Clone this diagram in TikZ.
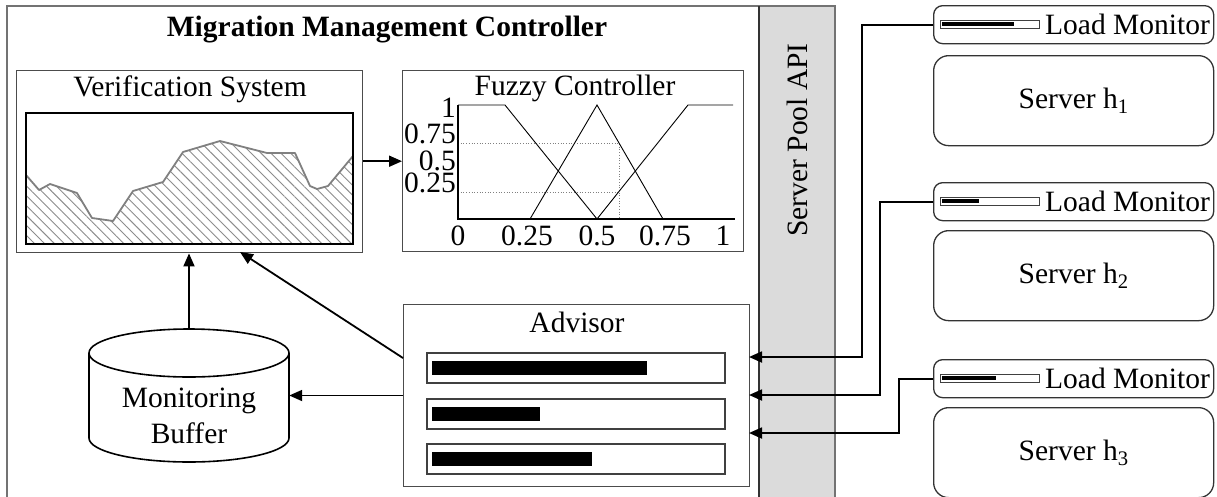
\documentclass[tikz,border=0pt]{standalone}
\usepackage{fontspec}
\setmainfont{Liberation Serif}
\usetikzlibrary{arrows.meta,patterns.meta}

\begin{document}
\begin{tikzpicture}[x=1pt,y=-1pt,
  font=\fontsize{29.5}{36}\selectfont,
  frame/.style={draw=black!55,line width=2pt},
  panel/.style={draw=black!70,line width=1.4pt,inner sep=0pt,anchor=north west},
  rbox/.style={draw=black!80,line width=1.3pt,rounded corners=15pt,inner sep=0pt,anchor=north west},
  lmbox/.style={draw=black!80,line width=1.3pt,rounded corners=9pt,inner sep=0pt,anchor=north west},
  arr/.style={line width=1.8pt,-{Triangle[length=13pt,width=11pt]}},
  axis/.style={line width=1.6pt},
  mf/.style={line width=0.9pt},
  guide/.style={line width=0.7pt,black!50,dotted},
  slot/.style={draw=black!75,line width=1.2pt,fill=white},
  level/.style={fill=black},
]
\useasboundingbox (0,0) rectangle (1217,496);

% controller frame and the API band
\fill[black!14] (759,6) rectangle (835,500);
\draw[frame] (7,500) -- (7,6) -- (835,6) -- (835,500);
\draw[line width=1.4pt,black!80] (759,6) -- (759,500);
\node[rotate=90] (api) at (797,140) {Server Pool API};
\node[anchor=base,font=\fontsize{29.5}{36}\selectfont\bfseries] (title) at (387,36) {Migration Management Controller};

% verification system
\node[panel,minimum width=346,minimum height=182] (vs) at (16,70) {};
\node[anchor=base] (vstitle) at (190,96) {Verification System};
\begin{scope}
  \clip (26,113) rectangle (353,244);
  \fill[pattern={Lines[angle=-45,distance=7pt,line width=0.9pt]},pattern color=black!45]
    (26,175) -- (39,190) -- (50,184) -- (77,193) -- (92,218) -- (113,221) -- (133,191)
    -- (163,182) -- (183,152) -- (220,141) -- (267,153) -- (295,153) -- (310,186)
    -- (317,189) -- (328,186) -- (353,156) -- (353,244) -- (26,244) -- cycle;
  \draw[line width=1.8pt,black!50,line join=round]
    (26,175) -- (39,190) -- (50,184) -- (77,193) -- (92,218) -- (113,221) -- (133,191)
    -- (163,182) -- (183,152) -- (220,141) -- (267,153) -- (295,153) -- (310,186)
    -- (317,189) -- (328,186) -- (353,156);
\end{scope}
\draw[line width=1.8pt] (26,113) rectangle (353,244);

% fuzzy controller
\node[panel,minimum width=341,minimum height=181] (fc) at (402,70) {};
\node[anchor=base] (fctitle) at (575,95) {Fuzzy Controller};
\draw[guide] (458,143) -- (619,143) -- (619,219);
\draw[guide] (458,192) -- (619,192);
\draw[mf] (458,105) -- (505,105) -- (597,219);
\draw[mf] (530,219) -- (597,105) -- (663,219);
\draw[mf] (597,219) -- (688,105) -- (733,105);
\draw[axis] (458,105) -- (458,219) -- (735,219);
\foreach \t/\x in {0/458,0.25/527,0.5/597,0.75/665,1/723}
  \node[anchor=base,inner sep=0pt] at (\x,245) {\t};
\foreach \t/\y in {1/117,0.75/143,0.5/170,0.25/192}
  \node[anchor=base east,inner sep=0pt] at (456,\y) {\t};

% advisor
\node[panel,minimum width=346,minimum height=182] (adv) at (403,304) {};
\node[anchor=base] (advtitle) at (577,332) {Advisor};
\foreach \y/\w in {353/647,399/540,444/592}{
  \draw[slot] (427,\y) rectangle (725,\y+30);
  \fill[level] (432,\y+8) rectangle (\w,\y+22);
}

% monitoring buffer (cylinder)
\node[inner sep=0pt,minimum width=200,minimum height=133] (buf) at (189,395.5) {};
\draw[line width=1.6pt,fill=white] (89,353) -- (89,438)
  arc[start angle=180,end angle=0,x radius=100,y radius=24] -- (289,353);
\draw[line width=1.6pt] (189,353) ellipse [x radius=100,y radius=24];
\node[align=center,inner sep=0pt] (buftext) at (189,416) {Monitoring\\Buffer};

% servers and their load monitors
\foreach \i/\ly/\sy/\lev in {1/5/55/1014,2/182/230/979,3/359/407/996}{
  \node[lmbox,minimum width=280,minimum height=38] (lm\i) at (933,\ly) {};
  \draw[slot,line width=1pt] (940,\ly+15) rectangle (1039,\ly+23);
  \fill[level] (942,\ly+17) rectangle (\lev,\ly+21);
  \node[anchor=base west,inner sep=0pt] at (1045,\ly+29) {Load Monitor};
  \node[rbox,minimum width=280,minimum height=90] (srv\i) at (933,\sy) {};
  \node at (srv\i.center) {Server h\textsubscript{\i}};
}

% connectors
\coordinate (vsin) at (240,252);
\coordinate (advout) at (403,358);
\coordinate (in1) at (749,357);
\coordinate (in2) at (749,395);
\coordinate (in3) at (749,433);
\draw[arr] (vs.east |- fc.west) -- (fc.west);
\draw[arr] (buf.north) -- (buf.north |- vs.south);
\draw[arr] (advout) -- (vsin);
\draw[arr] (adv.west |- buf.east) -- (buf.east);
\draw[arr] (lm1.west) -- ++(-71,0) |- (in1);
\draw[arr] (lm2.west) -- ++(-53,0) |- (in2);
\draw[arr] (lm3.west) -- ++(-34,0) |- (in3);
\end{tikzpicture}
\end{document}
